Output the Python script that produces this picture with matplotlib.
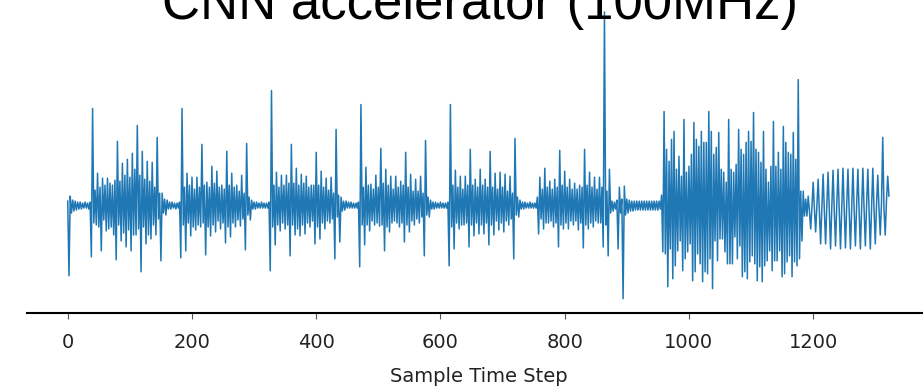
import numpy as np
import matplotlib
matplotlib.use("Agg")
import matplotlib.pyplot as plt

# signal, one pair per 4 samples:
# v_main is the value at sample 4k, v_mid the value at sample 4k+2
step = 4
v_main = [
    4, 9, 5, 4, 3, 3, 2, 3, 2, 3,
    97, 15, 32, 18, 27, 20, 27, 22, 20, 25,
    64, 24, 42, 30, 46, 28, 52, 36, 80, 30,
    54, 26, 44, 24, 43, 18, 68, 12, 12, 6,
    5, 3, 3, 2, 2, 3, 97, 18, 32, 20,
    28, 16, 28, 18, 61, 20, 23, 18, 39, 22,
    34, 18, 20, 16, 54, 20, 32, 18, 20, 14,
    30, 12, 62, 8, 5, 3, 3, 2, 3, 2,
    2, 3, 115, 20, 33, 18, 30, 20, 30, 22,
    61, 22, 37, 20, 31, 22, 29, 18, 20, 20,
    53, 20, 34, 18, 27, 15, 28, 12, 76, 10,
    8, 4, 4, 3, 3, 2, 2, 3, 101, 18,
    38, 20, 21, 16, 30, 18, 57, 22, 36, 20,
    29, 16, 29, 18, 24, 20, 53, 18, 31, 14,
    26, 14, 29, 12, 65, 8, 5, 3, 3, 2,
    3, 2, 2, 3, 101, 20, 35, 18, 29, 16,
    29, 20, 56, 20, 26, 18, 36, 20, 26, 18,
    54, 18, 32, 16, 33, 18, 31, 14, 29, 12,
    67, 8, 5, 3, 3, 2, 3, 2, 2, 8,
    28, 16, 37, 18, 24, 16, 26, 18, 55, 20,
    34, 18, 26, 16, 22, 16, 20, 18, 56, 20,
    33, 18, 28, 16, 28, 18, 194, 14, 36, 4,
    3, 5, 18, 6, 19, 6, 5, 4, 4, 4,
    4, 4, 4, 4, 4, 4, 4, 4, 4, 10,
    94, 56, 44, 66, 74, 36, 49, 29, 86, 33,
    39, 51, 83, 66, 59, 74, 63, 63, 94, 74,
    51, 58, 73, 36, 33, 23, 86, 36, 33, 41,
    76, 56, 51, 63, 74, 64, 93, 56, 53, 43,
    74, 36, 23, 39, 84, 39, 53, 36, 79, 63,
    53, 51, 73, 46, 126, 14, 14, 6, 9, -24,
    23, -27, 26, -39, 31, -39, 33, -44, 35, -41,
    36, -44, 37, -43, 36, -44, 37, -41, 36, -44,
    37, -41, 36, -44, 37, -39, 30, -30, 68, -30,
    29,
]
v_mid = [
    -71, -8, -6, -5, -4, -4, -3, -3, -4, -52,
    -18, -20, -22, -46, -15, -26, -24, -22, -30, -55,
    -20, -36, -28, -42, -25, -46, -30, -30, -24, -67,
    -22, -39, -30, -34, -20, -30, -14, -56, -8, -10,
    -4, -4, -3, -4, -3, -53, -20, -46, -18, -31,
    -22, -25, -20, -22, -18, -50, -22, -31, -20, -27,
    -16, -24, -18, -38, -22, -32, -18, -22, -15, -21,
    -14, -45, -10, -15, -4, -4, -3, -3, -3, -3,
    -3, -66, -22, -40, -20, -26, -18, -24, -20, -51,
    -20, -30, -24, -31, -20, -29, -18, -22, -16, -39,
    -22, -34, -18, -24, -16, -18, -14, -54, -12, -37,
    -6, -5, -3, -3, -3, -3, -3, -62, -20, -40,
    -20, -26, -16, -20, -18, -21, -20, -46, -22, -27,
    -18, -16, -18, -22, -18, -37, -20, -27, -16, -20,
    -14, -18, -12, -51, -10, -12, -4, -4, -3, -3,
    -3, -3, -3, -61, -22, -44, -18, -24, -20, -20,
    -18, -42, -20, -31, -18, -29, -20, -29, -18, -40,
    -20, -30, -16, -25, -18, -27, -16, -20, -14, -54,
    -10, -12, -4, -4, -3, -3, -3, -3, -3, -29,
    -14, -24, -18, -18, -16, -22, -18, -42, -20, -24,
    -18, -24, -16, -20, -16, -25, -18, -43, -20, -24,
    -18, -22, -16, -18, -18, -42, -20, -51, -8, -6,
    -4, -44, -8, -94, -10, -8, -6, -6, -5, -5,
    -5, -5, -5, -5, -5, -5, -5, -5, -4, -47,
    -49, -82, -44, -74, -61, -46, -36, -66, -54, -47,
    -39, -76, -67, -49, -59, -77, -67, -69, -54, -84,
    -36, -56, -34, -34, -47, -59, -59, -59, -32, -54,
    -41, -72, -67, -74, -57, -51, -59, -76, -62, -77,
    -61, -56, -46, -66, -56, -56, -46, -72, -69, -57,
    -51, -72, -57, -61, -54, -36, -11, -11, -6, -2,
    -4, 0, -6, -2, -6, 0, -5, -2, -6, 0,
    -6, -2, -5, 0, -6, -2, -5, 0, -6, -2,
    -5, 0, -6, -2, -5, 0, -4, 2, -4, 4,
    9,
]
tick_values = [0, 200, 400, 600, 800, 1000, 1200]

k = np.arange(len(v_main))
sample = np.column_stack([k * step, k * step + step // 2]).ravel()
value = np.column_stack([v_main, v_mid]).ravel()

fig = plt.figure(figsize=(9.23, 3.91), dpi=100)
ax = fig.add_axes([0.0289, 0.1995, 0.9787, 0.8066])
ax.plot(sample, value, color="#1f77b4", linewidth=1.1)

ax.set_xticks(tick_values)
ax.set_yticks([])
for side in ["top", "right", "left"]:
    ax.spines[side].set_visible(False)
ax.spines["bottom"].set_linewidth(1.5)
ax.spines["bottom"].set_color("black")
ax.tick_params(axis="x", length=4, width=0.8, color="#555555", pad=10.5,
               labelsize=14, labelcolor="#222222")
ax.set_xlabel("Sample Time Step", fontsize=14, color="#222222", labelpad=11)

fig.text(480 / 923, 1 - 19 / 391, "CNN accelerator (100MHz)", ha="center", va="baseline",
         fontsize=38, family="Liberation Sans", color="black")

fig.savefig("out.png", dpi=100)
